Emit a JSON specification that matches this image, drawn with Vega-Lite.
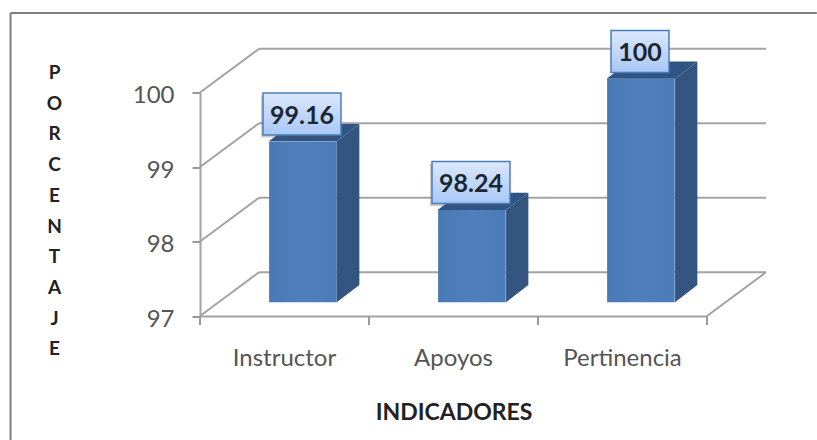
{
"$schema":"https://vega.github.io/schema/vega-lite/v6.json",
"width":507,"height":223.5,
"autosize":{"type":"none"},
"padding":{"left":200,"top":92.5,"right":110,"bottom":124},
"background":"white",
"config":{"view":{"stroke":null},"font":"Lato"},
"datasets":{
"indicadores":[
{"indicador":"Instructor","valor":99.16},
{"indicador":"Apoyos","valor":98.24},
{"indicador":"Pertinencia","valor":100}
],
"lineas":[{"marca":97},{"marca":98},{"marca":99},{"marca":100}],
"limites":[{"limite":0},{"limite":1},{"limite":2},{"limite":3}],
"marco":[{"marco":"borde"}],
"lateral":[
{"indicador":"Instructor","pos":0.809,"tope":99.344,"base":97.184},
{"indicador":"Instructor","pos":0.943,"tope":99.576,"base":97.416},
{"indicador":"Apoyos","pos":1.811,"tope":98.424,"base":97.184},
{"indicador":"Apoyos","pos":1.943,"tope":98.656,"base":97.416},
{"indicador":"Pertinencia","pos":2.811,"tope":100.184,"base":97.184},
{"indicador":"Pertinencia","pos":2.943,"tope":100.416,"base":97.416}
],
"superior":[
{"indicador":"Instructor","altura":99.344,"ini":0.408,"fin":0.809},
{"indicador":"Instructor","altura":99.576,"ini":0.542,"fin":0.943},
{"indicador":"Apoyos","altura":98.424,"ini":1.406,"fin":1.811},
{"indicador":"Apoyos","altura":98.656,"ini":1.54,"fin":1.943},
{"indicador":"Pertinencia","altura":100.184,"ini":2.406,"fin":2.811},
{"indicador":"Pertinencia","altura":100.416,"ini":2.54,"fin":2.943}
]
},
"resolve":{"scale":{"x":"independent"},"axis":{"x":"independent"}},
"layer":[
{"data":{"name":"marco"},
 "mark":{"type":"rule","color":"#7f7f7f","strokeWidth":2},
 "encoding":{
  "x":{"datum":-1.121,"type":"quantitative","scale":{"domain":[0,3]},"axis":null},
  "y":{"datum":101.067,"type":"quantitative"},
  "y2":{"datum":95.33}}},
{"data":{"name":"marco"},
 "mark":{"type":"rule","color":"#7f7f7f","strokeWidth":2},
 "encoding":{
  "x":{"datum":-1.121,"type":"quantitative","scale":{"domain":[0,3]},"axis":null},
  "x2":{"datum":3.65},
  "y":{"datum":101.067,"type":"quantitative"}}},
{"data":{"name":"limites"},
 "mark":{"type":"rule","color":"#9a9a9a","strokeWidth":2,"y2Offset":9},
 "encoding":{
  "x":{"field":"limite","type":"quantitative","scale":{"domain":[0,3]},"axis":null},
  "y":{"datum":97,"type":"quantitative"},
  "y2":{"datum":97}}},
{"data":{"name":"lineas"},
 "mark":{"type":"rule","color":"#a3a3a3","strokeWidth":2,"x2Offset":59,"y2Offset":-43.7},
 "encoding":{
  "x":{"datum":0,"type":"quantitative","scale":{"domain":[0,3]},"axis":null},
  "x2":{"datum":0},
  "y":{"field":"marca","type":"quantitative"},
  "y2":{"field":"marca"}}},
{"data":{"name":"lineas"},
 "mark":{"type":"rule","color":"#a3a3a3","strokeWidth":2,"xOffset":59,"x2Offset":59,"yOffset":-43.7,"y2Offset":-43.7},
 "encoding":{
  "x":{"datum":0,"type":"quantitative","scale":{"domain":[0,3]},"axis":null},
  "x2":{"datum":3},
  "y":{"field":"marca","type":"quantitative"},
  "y2":{"field":"marca"}}},
{"data":{"name":"lineas"},
 "transform":[{"filter":"datum.marca==97"}],
 "mark":{"type":"rule","color":"#a3a3a3","strokeWidth":2,"x2Offset":59,"y2Offset":-43.7},
 "encoding":{
  "x":{"datum":3,"type":"quantitative","scale":{"domain":[0,3]},"axis":null},
  "x2":{"datum":3},
  "y":{"field":"marca","type":"quantitative"},
  "y2":{"field":"marca"}}},
{"data":{"name":"indicadores"},
 "mark":{"type":"bar","xOffset":18.4,"yOffset":-13.7,"y2Offset":-13.7,
  "fill":{"gradient":"linear","x1":0,"y1":0,"x2":1,"y2":0,"stops":[{"offset":0,"color":"#497ab6"},{"offset":0.5,"color":"#4f80bd"},{"offset":1,"color":"#4b7cb9"}]}},
 "encoding":{
  "x":{"field":"indicador","type":"nominal","sort":["Instructor","Apoyos","Pertinencia"],
   "scale":{"domain":["Instructor","Apoyos","Pertinencia"],"paddingInner":0.6,"paddingOuter":0.3},
   "axis":{"title":"INDICADORES","titleFont":"Lato","titleFontSize":23,"titleFontWeight":"bold","titleColor":"#222222","titleY":103,"titleBaseline":"alphabetic",
    "ticks":false,"domainColor":"#a3a3a3","domainWidth":2,
    "labelAngle":0,"labelFont":"Lato","labelFontSize":24,"labelColor":"#555555","labelPadding":30,"labelBaseline":"top"}},
  "y":{"field":"valor","type":"quantitative","scale":{"domain":[97,100],"nice":false,"zero":false},
   "axis":{"values":[97,98,99,100],"format":"d","grid":false,"tickSize":8,"tickColor":"#9a9a9a","tickWidth":2,"domainColor":"#a3a3a3","domainWidth":2,
    "labelFont":"Lato","labelFontSize":24,"labelColor":"#555555","labelPadding":18,"labelOffset":3,
    "title":["P","O","R","C","E","N","T","A","J","E"],"titleAngle":0,"titleFont":"Lato","titleFontSize":19,"titleFontWeight":"bold","titleColor":"#222222",
    "titleLineHeight":30.7,"titleX":-146,"titleY":-14,"titleAlign":"center","titleBaseline":"alphabetic"}},
  "y2":{"datum":97}}},
{"data":{"name":"lateral"},
 "mark":{"type":"area","color":"#33557f","orient":"vertical"},
 "encoding":{
  "x":{"field":"pos","type":"quantitative","scale":{"domain":[0,3]},"axis":null},
  "y":{"field":"tope","type":"quantitative"},
  "y2":{"field":"base"},
  "detail":{"field":"indicador"}}},
{"data":{"name":"superior"},
 "mark":{"type":"area","color":"#2f5585","orient":"horizontal"},
 "encoding":{
  "x":{"field":"ini","type":"quantitative","scale":{"domain":[0,3]},"axis":null},
  "x2":{"field":"fin"},
  "y":{"field":"altura","type":"quantitative"},
  "detail":{"field":"indicador"}}},
{"data":{"name":"indicadores"},
 "transform":[{"filter":"datum.valor<100"}],
 "mark":{"type":"rect","width":78,"height":42,"xOffset":15.5,"yOffset":-38.5,"color":"#555555","opacity":0.3},
 "encoding":{
  "x":{"field":"indicador","type":"nominal","scale":{"domain":["Instructor","Apoyos","Pertinencia"],"paddingInner":0.6,"paddingOuter":0.3},"axis":null},
  "y":{"field":"valor","type":"quantitative"}}},
{"data":{"name":"indicadores"},
 "transform":[{"filter":"datum.valor<100"}],
 "mark":{"type":"rect","width":78,"height":42,"xOffset":17.5,"yOffset":-41,"stroke":"#4a7ebb","strokeWidth":1.5,
  "fill":{"gradient":"linear","x1":0,"y1":0,"x2":0,"y2":1,"stops":[{"offset":0,"color":"#dbe8fc"},{"offset":1,"color":"#a9c7f6"}]}},
 "encoding":{
  "x":{"field":"indicador","type":"nominal","scale":{"domain":["Instructor","Apoyos","Pertinencia"],"paddingInner":0.6,"paddingOuter":0.3},"axis":null},
  "y":{"field":"valor","type":"quantitative"}}},
{"data":{"name":"indicadores"},
 "transform":[{"filter":"datum.valor==100"}],
 "mark":{"type":"rect","width":58,"height":42,"xOffset":17.5,"yOffset":-41,"stroke":"#4a7ebb","strokeWidth":1.5,
  "fill":{"gradient":"linear","x1":0,"y1":0,"x2":0,"y2":1,"stops":[{"offset":0,"color":"#dbe8fc"},{"offset":1,"color":"#a9c7f6"}]}},
 "encoding":{
  "x":{"field":"indicador","type":"nominal","scale":{"domain":["Instructor","Apoyos","Pertinencia"],"paddingInner":0.6,"paddingOuter":0.3},"axis":null},
  "y":{"field":"valor","type":"quantitative"}}},
{"data":{"name":"indicadores"},
 "mark":{"type":"text","font":"Lato","fontSize":25,"fontWeight":"bold","color":"#1d2733","xOffset":17.5,"yOffset":-39.5,"baseline":"middle","align":"center"},
 "encoding":{
  "x":{"field":"indicador","type":"nominal","scale":{"domain":["Instructor","Apoyos","Pertinencia"],"paddingInner":0.6,"paddingOuter":0.3},"axis":null},
  "y":{"field":"valor","type":"quantitative"},
  "text":{"field":"valor","type":"quantitative"}}}
]
}
